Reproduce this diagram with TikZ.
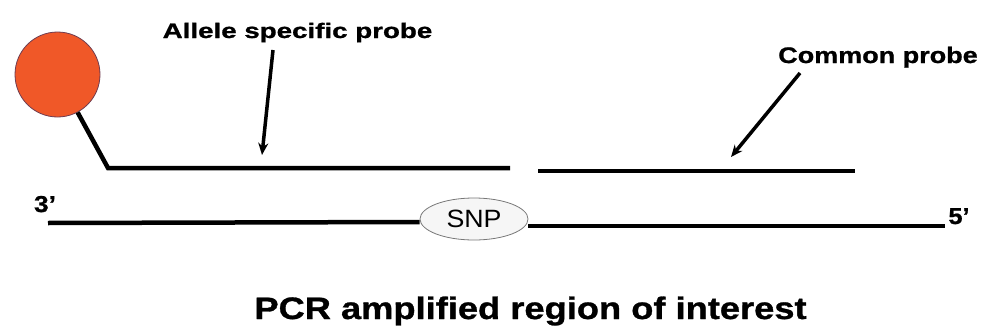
\documentclass[tikz,border=0pt]{standalone}
\usepackage{fontspec}
\setmainfont{Liberation Sans}
\newfontface\heavy[FakeBold=0.9]{Liberation Sans Bold}
\usetikzlibrary{arrows.meta,shapes.geometric}
\definecolor{bead}{RGB}{240,88,40}
\definecolor{beadedge}{RGB}{110,60,80}
\definecolor{snpfill}{RGB}{246,246,246}
\definecolor{snpedge}{RGB}{120,120,120}
\newcommand{\wide}[2]{\scalebox{#1}[1]{#2}}
\begin{document}
\begin{tikzpicture}[x=1pt,y=-1pt,
  strand/.style={line width=4.5pt},
  pointer/.style={line width=3.5pt,-{Stealth[length=12pt,width=10pt]}},
  label/.style={font=\heavy\fontsize{21}{24}\selectfont,inner sep=0pt,anchor=base},
  endlabel/.style={font=\heavy\fontsize{23}{24}\selectfont,inner sep=0pt,anchor=base}]
\useasboundingbox (0,0) rectangle (985,332);
% bead
\node (bead) [circle,fill=bead,draw=beadedge,line width=0.8pt,minimum size=85pt,inner sep=0pt] at (57.5,74.5) {};
\coordinate (stem) at (108,168);
\coordinate (p1end) at (510,168);
\draw[strand,line join=miter] (bead.-62) -- (stem) -- (p1end);
% common probe
\coordinate (p2a) at (538,171);
\coordinate (p2b) at (855,171);
\draw[strand] (p2a) -- (p2b);
% template strand
\node (snp) [ellipse,draw=snpedge,fill=snpfill,line width=0.8pt,minimum width=108pt,minimum height=42pt,inner sep=0pt,font=\fontsize{25}{27}\selectfont] at (474,219) {\wide{1.07}{SNP}};
\coordinate (tl) at (48,223);
\coordinate (tr) at (945,226);
\draw[strand] (tl) -- (snp.west |- 0,222);
\draw[strand] (snp.east |- 0,226) -- (tr);
\node[endlabel] (three) at (45,212) {\wide{1.15}{3’}};
\node[endlabel] (five) at (959,224) {\wide{1.1}{5’}};
% labels
\node[label] (asp) at (297.5,38) {\wide{1.32}{Allele specific probe}};
\node[label,font=\heavy\fontsize{22.5}{24}\selectfont] (cp) at (878,63) {\wide{1.2}{Common probe}};
\coordinate (a1) at (262,155);
\coordinate (a2) at (731,157);
\draw[pointer] (273,50) -- (a1);
\draw[pointer] (800,73) -- (a2);
\node[font=\heavy\fontsize{31}{34}\selectfont,inner sep=0pt,anchor=base] (title) at (530.5,319) {\wide{1.17}{PCR amplified region of interest}};
\end{tikzpicture}
\end{document}
